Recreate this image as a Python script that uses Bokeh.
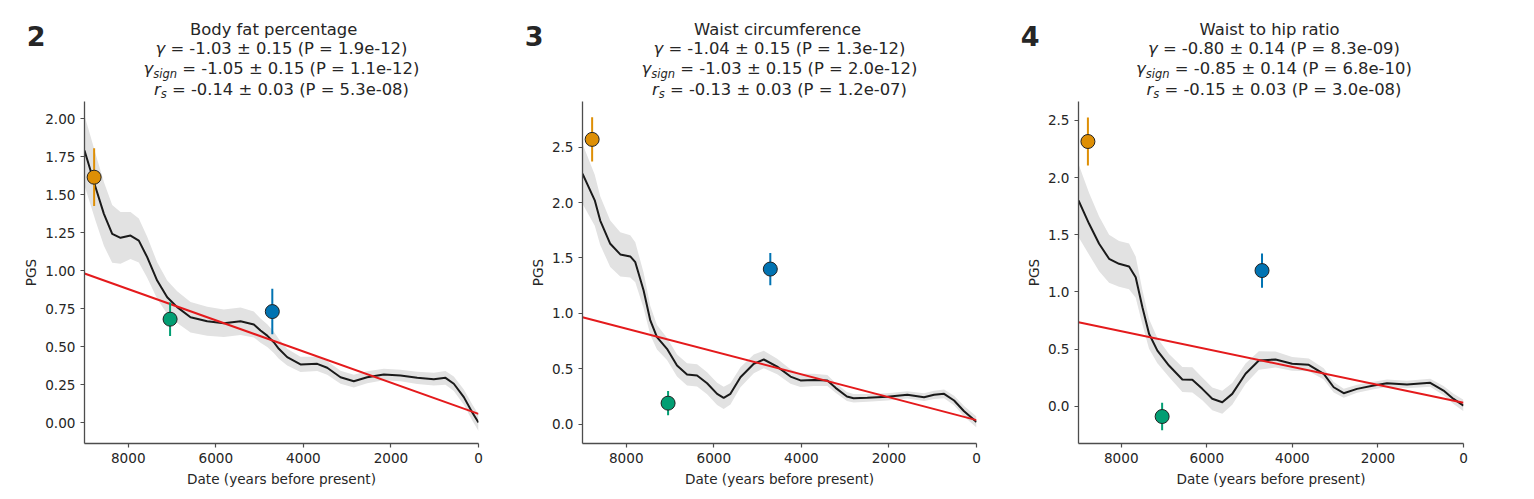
from bokeh.plotting import figure
from bokeh.models import Range1d, FixedTicker, NumeralTickFormatter, Label
from bokeh.layouts import row, column
from bokeh.embed import file_html
from bokeh.resources import INLINE

# ---------------- data ----------------
# Panel 2: Body fat percentage
fat_years = [9000, 8862, 8748, 8557, 8367, 8177, 7949, 7759, 7568, 7340, 7111, 6883,
             6578, 6197, 5817, 5436, 5132, 4979, 4826, 4675, 4561, 4370, 4066, 3684,
             3456, 3152, 2848, 2543, 2163, 1782, 1400, 1020, 754, 564, 335, 145, 0]
fat_pgs = [1.79, 1.658, 1.548, 1.373, 1.241, 1.215, 1.23, 1.197, 1.088, 0.934, 0.824, 0.759,
           0.693, 0.666, 0.653, 0.666, 0.645, 0.605, 0.572, 0.528, 0.485, 0.43, 0.382, 0.386,
           0.36, 0.298, 0.272, 0.298, 0.316, 0.309, 0.294, 0.285, 0.294, 0.255, 0.167, 0.068, 0.0]
fat_band = [0.23, 0.225, 0.22, 0.21, 0.19, 0.17, 0.155, 0.145, 0.135, 0.12, 0.11, 0.105,
            0.1, 0.095, 0.09, 0.09, 0.085, 0.08, 0.075, 0.07, 0.065, 0.055, 0.05, 0.047,
            0.045, 0.043, 0.042, 0.04, 0.038, 0.038, 0.04, 0.042, 0.045, 0.047, 0.05, 0.053, 0.055]

# Panel 3: Waist circumference
waist_years = [9000, 8720, 8595, 8366, 8137, 7909, 7794, 7604, 7451, 7299, 7070, 6841,
               6612, 6383, 6154, 5925, 5775, 5621, 5392, 5087, 4859, 4553, 4249, 4020,
               3713, 3407, 3219, 2960, 2807, 2494, 2036, 1579, 1198, 970, 741, 512, 284, 0]
waist_pgs = [2.26, 2.02, 1.838, 1.628, 1.532, 1.514, 1.462, 1.207, 0.936, 0.785, 0.68, 0.53,
             0.449, 0.44, 0.37, 0.274, 0.238, 0.274, 0.424, 0.545, 0.584, 0.52, 0.43, 0.395,
             0.40, 0.394, 0.328, 0.25, 0.235, 0.238, 0.247, 0.265, 0.244, 0.265, 0.274, 0.214, 0.117, 0.02]
waist_band = [0.27, 0.23, 0.22, 0.21, 0.2, 0.19, 0.18, 0.16, 0.13, 0.11, 0.1, 0.1,
              0.1, 0.1, 0.1, 0.1, 0.1, 0.095, 0.09, 0.085, 0.08, 0.07, 0.065, 0.06,
              0.055, 0.05, 0.045, 0.04, 0.038, 0.035, 0.033, 0.033, 0.035, 0.037, 0.04, 0.043, 0.047, 0.05]

# Panel 4: Waist to hip ratio
whr_years = [9000, 8752, 8518, 8285, 8052, 7818, 7663, 7506, 7351, 7156, 6885, 6572,
             6339, 6106, 5873, 5639, 5406, 5095, 4784, 4395, 4005, 3617, 3267, 3034,
             2800, 2489, 2100, 1789, 1322, 778, 467, 233, 0]
whr_pgs = [1.80, 1.596, 1.421, 1.29, 1.246, 1.223, 1.129, 0.866, 0.634, 0.487, 0.356, 0.234,
           0.231, 0.152, 0.065, 0.035, 0.108, 0.284, 0.40, 0.409, 0.371, 0.362, 0.283, 0.166,
           0.114, 0.152, 0.181, 0.201, 0.19, 0.205, 0.137, 0.064, 0.006]
whr_band = [0.32, 0.27, 0.24, 0.21, 0.2, 0.2, 0.18, 0.15, 0.13, 0.11, 0.1, 0.11,
            0.11, 0.1, 0.1, 0.1, 0.095, 0.09, 0.08, 0.07, 0.06, 0.055, 0.05, 0.045,
            0.04, 0.035, 0.033, 0.033, 0.033, 0.035, 0.04, 0.045, 0.05]

# ancient population points (years BP) and colours
point_years = [8780, 7045, 4710]
point_colors = ["#de8f05", "#029e73", "#0173b2"]
fat_points = [1.614, 0.68, 0.73]
fat_err = [0.19, 0.11, 0.15]
waist_points = [2.57, 0.19, 1.40]
waist_err = [0.20, 0.11, 0.145]
whr_points = [2.316, -0.09, 1.187]
whr_err = [0.21, 0.12, 0.15]

# linear fits (value at 9000 and at 0 years BP)
fit_years = [9000, 0]
fat_fit = [0.98, 0.057]
waist_fit = [0.966, 0.037]
whr_fit = [0.735, 0.03]

# titles
panel_numbers = ["2", "3", "4"]
traits = ["Body fat percentage", "Waist circumference", "Waist to hip ratio"]
gamma_txt = ["-1.03 ± 0.15 (P = 1.9e-12)", "-1.04 ± 0.15 (P = 1.3e-12)", "-0.80 ± 0.14 (P = 8.3e-09)"]
gsign_txt = ["-1.05 ± 0.15 (P = 1.1e-12)", "-1.03 ± 0.15 (P = 2.0e-12)", "-0.85 ± 0.14 (P = 6.8e-10)"]
rs_txt = ["-0.14 ± 0.03 (P = 5.3e-08)", "-0.13 ± 0.03 (P = 1.2e-07)", "-0.15 ± 0.03 (P = 3.0e-08)"]

y_ranges = [(-0.138, 2.112), (-0.174, 2.912), (-0.326, 2.666)]
y_ticks = [[0, 0.25, 0.5, 0.75, 1.0, 1.25, 1.5, 1.75, 2.0],
           [0, 0.5, 1.0, 1.5, 2.0, 2.5],
           [0, 0.5, 1.0, 1.5, 2.0, 2.5]]
y_formats = ["0.00", "0.0", "0.0"]
x_ticks = [8000, 6000, 4000, 2000, 0]

# ---------------- styling ----------------
FONT = "DejaVu Sans"
TXT = "#262626"
TITLE_PX = 16.4
SUB_PX = 11.5
TICK_PX = "13.6px"
HEADER_H = 101
PLOT_H = 392
BASE_FIX = 0.36  # em, raise so that label y sits on the alphabetic baseline
NUM_Y = 66       # header px (from bottom) of the panel number centre

EM = {' ': 0.318, '.': 0.318, '-': 0.361, '=': 0.838, '±': 0.838, '(': 0.390, ')': 0.390,
      'P': 0.603, 'e': 0.615, 'γ': 0.592, 's': 0.521, 'i': 0.278, 'g': 0.635, 'n': 0.634, 'r': 0.411}


def tw(s, px):
    return sum(EM.get(c, 0.636) for c in s) * px


layout_geo = [  # (width, left, frame_w, right, title_shift)
    (508, 84, 394, 30, 0),
    (500, 74, 394, 32, 0),
    (495, 70, 385, 40, 3),
]


def make_header(i):
    width, left, fw, right, shift = layout_geo[i]
    # header frame lines up with the panel frame; x is measured in px from the frame's left edge
    h = figure(width=width, height=HEADER_H, output_backend="svg", toolbar_location=None,
               x_range=Range1d(0, fw), y_range=Range1d(0, HEADER_H),
               x_axis_type=None,
               min_border_left=left, min_border_right=right, min_border_top=0, min_border_bottom=0)
    h.outline_line_color = None
    h.xgrid.visible = False
    h.ygrid.visible = False
    h.background_fill_color = "white"
    h.border_fill_color = "white"
    # panel number drawn as the single tick label of an invisible left axis
    ax = h.yaxis[0]
    ax.ticker = FixedTicker(ticks=[NUM_Y])
    ax.major_label_overrides = {NUM_Y: panel_numbers[i]}
    ax.axis_line_color = None
    ax.major_tick_line_color = None
    ax.minor_tick_line_color = None
    ax.major_tick_out = 0
    ax.major_tick_in = 0
    ax.major_label_standoff = 39
    ax.major_label_text_font = FONT
    ax.major_label_text_font_size = "27px"
    ax.major_label_text_font_style = "bold"
    ax.major_label_text_color = TXT

    cx = fw / 2 + shift

    def lab(text, x, y, size, style="normal"):
        h.add_layout(Label(x=x, y=y + BASE_FIX * size, text=text, text_font=FONT,
                           text_font_size=f"{size}px",
                           text_font_style=style, text_color=TXT,
                           text_align="left", text_baseline="alphabetic"))

    sp = tw(" ", TITLE_PX)
    l1 = traits[i]
    lab(l1, cx - tw(l1, TITLE_PX) / 2, 65.7, TITLE_PX)

    suf2 = "= " + gamma_txt[i]
    wg = tw("γ", TITLE_PX)
    x = cx - (wg + sp + tw(suf2, TITLE_PX)) / 2
    lab("γ", x, 47.2, TITLE_PX, "italic")
    lab(suf2, x + wg + sp, 47.2, TITLE_PX)

    suf3 = "= " + gsign_txt[i]
    ws = tw("sign", SUB_PX)
    x = cx - (wg + ws + sp + tw(suf3, TITLE_PX)) / 2
    lab("γ", x, 26.7, TITLE_PX, "italic")
    lab("sign", x + wg, 23.6, SUB_PX, "italic")
    lab(suf3, x + wg + ws + sp, 26.7, TITLE_PX)

    suf4 = "= " + rs_txt[i]
    wr = tw("r", TITLE_PX)
    wsub = tw("s", SUB_PX)
    x = cx - (wr + wsub + sp + tw(suf4, TITLE_PX)) / 2
    lab("r", x, 6.0, TITLE_PX, "italic")
    lab("s", x + wr, 3.2, SUB_PX, "italic")
    lab(suf4, x + wr + wsub + sp, 6.0, TITLE_PX)
    return h


def make_panel(i, years, pgs, band, pts, errs, fit):
    width, left, fw, right, shift = layout_geo[i]
    y0, y1 = y_ranges[i]
    p = figure(width=width, height=PLOT_H, output_backend="svg", toolbar_location=None,
               x_range=Range1d(9000, 0), y_range=Range1d(y0, y1),
               min_border_left=left, min_border_right=right,
               min_border_top=0, min_border_bottom=50)
    p.outline_line_color = None
    p.xgrid.visible = False
    p.ygrid.visible = False
    p.background_fill_color = "white"
    p.border_fill_color = "white"

    for ax in (p.xaxis[0], p.yaxis[0]):
        ax.axis_line_color = "#4d4d4d"
        ax.axis_line_width = 1.3
        ax.major_tick_line_color = "#4d4d4d"
        ax.major_tick_line_width = 1.2
        ax.major_tick_out = 4
        ax.major_tick_in = 0
        ax.minor_tick_line_color = None
        ax.major_label_text_font = FONT
        ax.major_label_text_font_size = TICK_PX
        ax.major_label_text_color = TXT
        ax.axis_label_text_font = FONT
        ax.axis_label_text_font_size = TICK_PX
        ax.axis_label_text_font_style = "normal"
        ax.axis_label_text_color = TXT
        ax.major_label_standoff = 5
    p.xaxis.ticker = FixedTicker(ticks=x_ticks)
    p.yaxis.ticker = FixedTicker(ticks=y_ticks[i])
    p.yaxis.formatter = NumeralTickFormatter(format=y_formats[i])
    p.xaxis.axis_label = "Date (years before present)"
    p.yaxis.axis_label = "PGS"
    p.xaxis.axis_label_standoff = 5
    p.yaxis.axis_label_standoff = 3

    lower = [v - b for v, b in zip(pgs, band)]
    upper = [v + b for v, b in zip(pgs, band)]
    p.varea(x=years, y1=lower, y2=upper, fill_color="#e2e2e2", fill_alpha=1.0)
    p.line(years, pgs, line_color="#1a1a1a", line_width=2, line_join="round")
    p.line(fit_years, fit, line_color="#e41a1c", line_width=2)
    p.segment(x0=point_years, y0=[v - e for v, e in zip(pts, errs)],
              x1=point_years, y1=[v + e for v, e in zip(pts, errs)],
              line_color=point_colors, line_width=2)
    p.scatter(point_years, pts, size=14, fill_color=point_colors,
              line_color="#222222", line_width=1)
    return p


cols = []
for i, (yrs, pg, bd, pt, er, ft) in enumerate([
        (fat_years, fat_pgs, fat_band, fat_points, fat_err, fat_fit),
        (waist_years, waist_pgs, waist_band, waist_points, waist_err, waist_fit),
        (whr_years, whr_pgs, whr_band, whr_points, whr_err, whr_fit)]):
    cols.append(column(make_header(i), make_panel(i, yrs, pg, bd, pt, er, ft), spacing=0))

layout = row(*cols, spacing=0)
open("out.html", "w").write(file_html(layout, INLINE))
